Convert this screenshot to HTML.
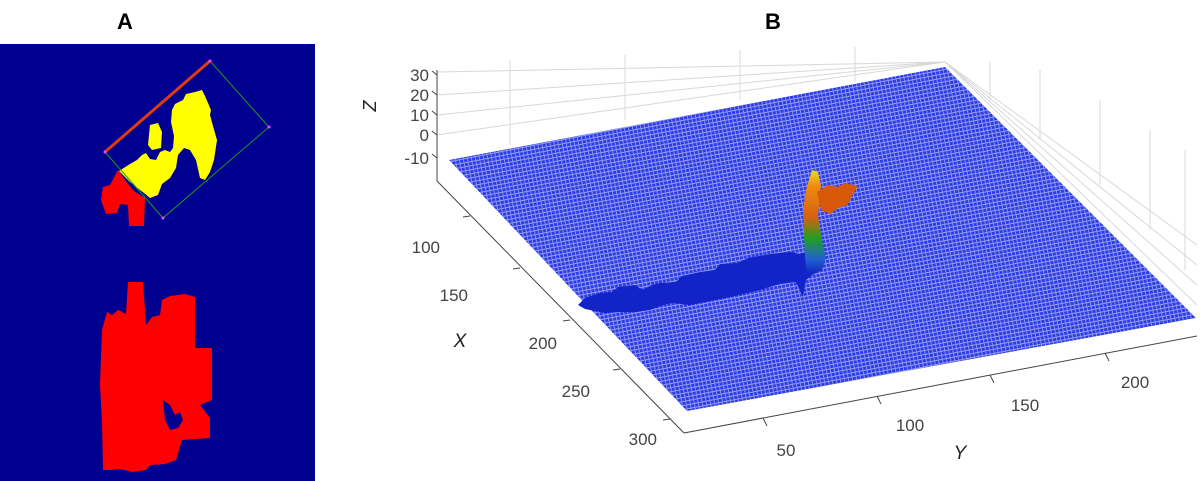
<!DOCTYPE html>
<html><head><meta charset="utf-8"><style>
html,body{margin:0;padding:0;background:#fff;}
svg{display:block;font-family:"Liberation Sans",Arial,sans-serif;}
</style></head><body>
<svg width="1200" height="481" viewBox="0 0 1200 481" xmlns="http://www.w3.org/2000/svg">
<defs>
<pattern id="mesh" width="4" height="4" patternUnits="userSpaceOnUse" patternTransform="rotate(-11)">
<rect width="4" height="4" fill="#2c3ce4"/>
<rect x="0" y="0" width="4" height="1" fill="#9aa2f2"/>
<rect x="0" y="0" width="1" height="4" fill="#8890ef"/>
</pattern>
<linearGradient id="peak" x1="0" y1="0" x2="0" y2="1">
<stop offset="0" stop-color="#e8e020"/>
<stop offset="0.15" stop-color="#f08a10"/>
<stop offset="0.45" stop-color="#d86010"/>
<stop offset="0.65" stop-color="#20a020"/>
<stop offset="0.85" stop-color="#2060d0"/>
<stop offset="1" stop-color="#1020c0"/>
</linearGradient>
</defs>
<text x="125" y="29" font-size="22" font-weight="bold" text-anchor="middle">A</text>
<text x="773" y="29" font-size="22" font-weight="bold" text-anchor="middle">B</text>

<!-- Panel A -->
<rect x="0" y="44" width="315" height="437" fill="#000090"/>
<polygon points="118,170 128,184 135,192 145,198 144,226 140,226 129,226 128,205 120,204 117,213 106,214 101,200 103,187 110,185" fill="#ff0000"/>
<!-- yellow -->
<polygon points="119,171 130,164 137,160 142,155 146,153 150,159 156,160 160,152 165,150 170,152 173,148 174,136 171,122 172,110 175,104 183,100 186,94 195,92 202,90 205,96 208,103 211,110 210,115 213,126 217,140 214,160 210,172 205,180 200,178 196,160 190,150 184,148 178,155 176,168 170,178 162,184 158,195 150,198 144,193 140,190 130,182" fill="#ffff00"/>
<polygon points="150,125 158,123 162,132 161,148 152,150 148,145" fill="#ffff00"/>
<!-- bounding box -->
<polygon points="105,152 210,61 269,127 163,218" fill="none" stroke="#1a9a1a" stroke-width="1"/>
<line x1="105" y1="152" x2="210" y2="61" stroke="#e03a10" stroke-width="3"/>
<circle cx="105" cy="152" r="1.5" fill="#ff40ff"/><circle cx="210" cy="61" r="1.5" fill="#ff40ff"/>
<circle cx="269" cy="127" r="1.5" fill="#ff40ff"/><circle cx="163" cy="218" r="1.5" fill="#ff40ff"/>
<!-- bottom red -->
<polygon points="128,282 143,282 146,325 152,317 160,315 162,300 170,296 185,294 195,297 195,348 212,348 212,400 200,405 210,418 210,438 182,440 176,460 165,464 150,465 146,470 132,472 120,469 110,470 103,470 102,420 100,385 102,330 107,312 112,315 118,310 126,314" fill="#ff0000"/>
<polygon points="163,400 170,405 175,415 180,412 183,420 178,428 170,430 165,420" fill="#000090"/>

<!-- Panel B grid -->
<g stroke="#d8d8d8" stroke-width="1" fill="none">
<line x1="437" y1="72" x2="945" y2="62"/>
<line x1="437" y1="95" x2="945" y2="62"/>
<line x1="437" y1="115" x2="945" y2="62"/>
<line x1="437" y1="135" x2="945" y2="62"/>
<line x1="510" y1="60" x2="510" y2="145"/>
<line x1="625" y1="55" x2="625" y2="120"/>
<line x1="740" y1="50" x2="740" y2="100"/>
<line x1="855" y1="47" x2="855" y2="82"/>
<line x1="945" y1="62" x2="1197" y2="245"/>
<line x1="945" y1="62" x2="1197" y2="265"/>
<line x1="945" y1="62" x2="1197" y2="285"/>
<line x1="945" y1="62" x2="1197" y2="305"/>
<line x1="990" y1="62" x2="990" y2="100"/>
<line x1="1040" y1="70" x2="1040" y2="140"/>
<line x1="1100" y1="100" x2="1100" y2="185"/>
<line x1="1150" y1="130" x2="1150" y2="230"/>
<line x1="1185" y1="150" x2="1185" y2="270"/>
</g>
<polygon points="449,160 945,67 1196,318 687,411" fill="url(#mesh)"/>
<!-- dark blob -->
<polygon points="578,305 585,298 600,293 612,292 618,287 635,285 642,290 652,285 660,283 676,282 682,276 700,272 715,270 720,264 738,263 748,258 770,254 790,252 800,254 812,250 820,244 823,265 806,280 803,297 796,282 780,284 760,290 735,296 715,300 700,303 690,305 672,303 660,306 650,310 636,312 620,312 605,313 595,311 585,309" fill="#1224c8"/>
<!-- peak -->
<polygon points="812,170 818,172 821,185 818,215 822,240 826,258 822,270 812,275 806,270 804,240 803,210 806,190" fill="url(#peak)"/>
<polygon points="817,192 828,185 838,187 844,183 858,186 852,196 847,205 838,208 830,214 821,210" fill="#d8580a"/>

<!-- axes -->
<g stroke="#444" stroke-width="1" fill="none">
<line x1="437" y1="70" x2="437" y2="181"/>
<line x1="437" y1="181" x2="684" y2="433"/>
<line x1="684" y1="433" x2="1197" y2="336"/>
<line x1="437" y1="75" x2="432" y2="71"/>
<line x1="437" y1="95" x2="432" y2="91"/>
<line x1="437" y1="115" x2="432" y2="111"/>
<line x1="437" y1="135" x2="432" y2="131"/>
<line x1="437" y1="158" x2="432" y2="154"/>
<line x1="470" y1="216" x2="463" y2="217"/>
<line x1="520" y1="268" x2="513" y2="269"/>
<line x1="570" y1="320" x2="563" y2="321"/>
<line x1="620" y1="369" x2="613" y2="370"/>
<line x1="670" y1="419" x2="663" y2="420"/>
<line x1="763" y1="418" x2="767" y2="426"/>
<line x1="877" y1="396" x2="881" y2="404"/>
<line x1="990" y1="375" x2="994" y2="383"/>
<line x1="1105" y1="353" x2="1109" y2="361"/>
</g>
<g font-size="17" fill="#444" text-anchor="end">
<text x="429" y="81">30</text>
<text x="429" y="101">20</text>
<text x="429" y="121">10</text>
<text x="429" y="141">0</text>
<text x="429" y="164">-10</text>
<text x="440" y="253">100</text>
<text x="468" y="301">150</text>
<text x="557" y="349">200</text>
<text x="590" y="397">250</text>
<text x="657" y="445">300</text>
</g>
<g font-size="17" fill="#444" text-anchor="middle">
<text x="786" y="456">50</text>
<text x="910" y="431">100</text>
<text x="1025" y="411">150</text>
<text x="1135" y="388">200</text>
</g>
<text x="460" y="347" font-size="19" font-style="italic" text-anchor="middle" fill="#222">X</text>
<text x="960" y="459" font-size="19" font-style="italic" text-anchor="middle" fill="#222">Y</text>
<text x="376" y="118" font-size="18" font-style="italic" text-anchor="middle" fill="#222" transform="rotate(-90 370 112)">Z</text>
</svg>
</body></html>
